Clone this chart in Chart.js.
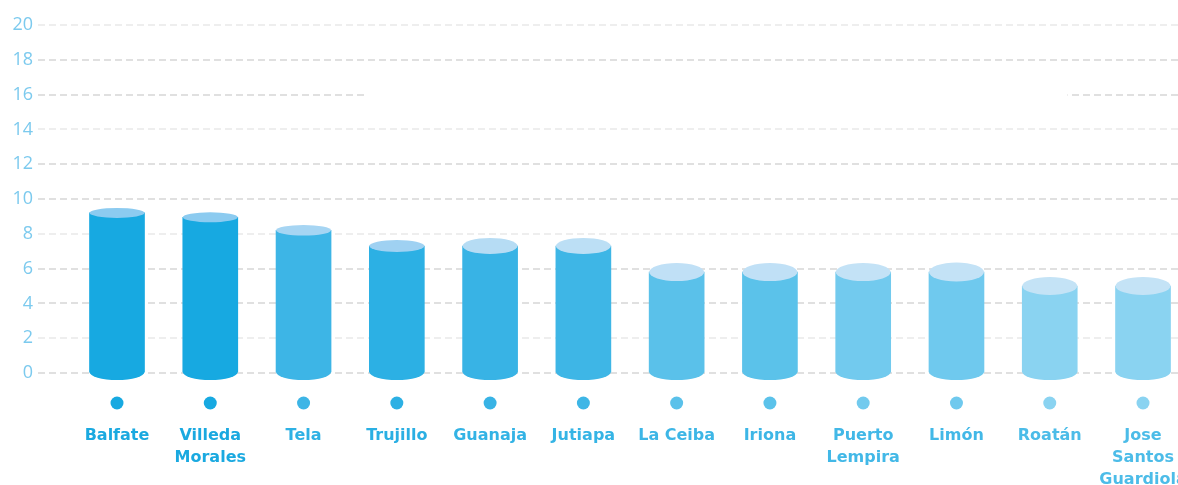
<!DOCTYPE html>
<html>
<head>
<meta charset="utf-8">
<script src="https://cdn.jsdelivr.net/npm/chart.js@4"></script>
<style>
  html, body { margin: 0; padding: 0; background: #ffffff; }
  #wrap { width: 1178px; height: 485px; position: relative; overflow: hidden; }
</style>
</head>
<body>
<div id="wrap"><canvas id="c"></canvas></div>
<script>
// ---- data ----
const categories = ['Balfate', 'Villeda Morales', 'Tela', 'Trujillo', 'Guanaja', 'Jutiapa',
  'La Ceiba', 'Iriona', 'Puerto Lempira', 'Limón', 'Roatán', 'Jose Santos Guardiola'];
const tickLabels = [['Balfate'], ['Villeda', 'Morales'], ['Tela'], ['Trujillo'], ['Guanaja'], ['Jutiapa'],
  ['La Ceiba'], ['Iriona'], ['Puerto', 'Lempira'], ['Limón'], ['Roatán'], ['Jose', 'Santos', 'Guardiola']];
const values = [9.2, 8.95, 8.2, 7.3, 7.3, 7.3, 5.8, 5.8, 5.8, 5.8, 5.0, 5.0];
const yTicks = [0, 2, 4, 6, 8, 10, 12, 14, 16, 18, 20];

// ---- styles ----
const bodyColors = ['#17a9e1', '#17a9e1', '#3db5e6', '#2cb0e4', '#38b3e5', '#3eb6e6',
  '#5ac1ea', '#5bc2ea', '#72caee', '#6fc9ee', '#8ad3f1', '#8ad3f1'];
const capColors = ['#8ccbf0', '#8ccbf0', '#a6d5f3', '#9fd1f2', '#b6dcf4', '#bcdff5',
  '#c0e0f6', '#c0e0f6', '#c3e2f6', '#c3e2f6', '#c4e3f6', '#c4e3f6'];
const labelColors = ['#1aa9e0', '#1aa9e0', '#2eb1e4', '#2aafe3', '#33b3e5', '#35b4e5',
  '#3db6e6', '#3db6e6', '#42b8e7', '#42b8e7', '#4cbce8', '#4cbce8'];
const capRy = [5, 5, 5.3, 6, 8, 8, 9, 9, 9, 9.5, 9, 9];

const cylinderPlugin = {
  id: 'cylinders',
  beforeDatasetsDraw(chart) {
    // white gap across the 16 grid line (as in the reference)
    const { ctx } = chart;
    const xs = chart.scales.x, ys = chart.scales.y;
    ctx.save();
    ctx.fillStyle = '#ffffff';
    const x1 = xs.getPixelForValue(2.66), x2 = xs.getPixelForValue(10.19);
    const y1 = ys.getPixelForValue(16.3), y2 = ys.getPixelForValue(15.7);
    ctx.fillRect(x1, y1, x2 - x1, y2 - y1);
    ctx.restore();
  },
  afterDatasetsDraw(chart) {
    const { ctx } = chart;
    const meta = chart.getDatasetMeta(0);
    ctx.save();
    meta.data.forEach((bar, i) => {
      const p = bar.getProps(['x', 'y', 'base', 'width'], true);
      const rx = p.width / 2;
      // bottom rounded base
      ctx.beginPath();
      ctx.fillStyle = bodyColors[i];
      ctx.ellipse(p.x, p.base, rx, 8, 0, 0, Math.PI);
      ctx.fill();
      // top cap
      ctx.beginPath();
      ctx.fillStyle = capColors[i];
      ctx.ellipse(p.x, p.y, rx, capRy[i], 0, 0, Math.PI * 2);
      ctx.fill();
      // dot under bar
      ctx.beginPath();
      ctx.fillStyle = bodyColors[i];
      ctx.arc(p.x, p.base + 31, 6.5, 0, Math.PI * 2);
      ctx.fill();
    });
    ctx.restore();
  }
};

const lightLines = [20, 14, 8, 2];

new Chart(document.getElementById('c'), {
  type: 'bar',
  data: {
    datasets: [{
      data: values.map((v, i) => ({ x: i, y: v })),
      backgroundColor: bodyColors,
      borderWidth: 0,
      barThickness: 55,
      clip: false
    }]
  },
  options: {
    responsive: true,
    maintainAspectRatio: false,
    animation: false,
    layout: { padding: { top: 25, right: 0, bottom: 0, left: 0 } },
    plugins: { legend: { display: false }, tooltip: { enabled: false } },
    scales: {
      x: {
        type: 'linear',
        offset: false,
        min: -0.847,
        max: 11.375,
        grid: { display: false, offset: false },
        border: { display: false },
        afterBuildTicks: (scale) => { scale.ticks = categories.map((_, i) => ({ value: i })); },
        afterFit: (scale) => { scale.height = 112; scale.paddingLeft = 0; scale.paddingRight = 0; },
        ticks: {
          autoSkip: false,
          maxRotation: 0,
          padding: 44,
          font: { family: 'DejaVu Sans', size: 16, weight: '700', lineHeight: 1.36 },
          color: (ctx) => labelColors[ctx.index] || labelColors[0],
          callback: (v) => tickLabels[v] || ''
        }
      },
      y: {
        min: 0,
        max: 20,
        afterBuildTicks: (scale) => { scale.ticks = yTicks.map(v => ({ value: v })); },
        afterFit: (scale) => { scale.width = 38; },
        grid: {
          drawTicks: false,
          lineWidth: 2,
          color: (ctx) => lightLines.includes(ctx.tick && ctx.tick.value) ? '#eeeeee' : '#e0e0e0'
        },
        border: { display: false, dash: [7, 4] },
        ticks: {
          padding: 5,
          color: '#7ccaee',
          font: { family: 'Open Sans', size: 18, weight: '400' }
        }
      }
    }
  },
  plugins: [cylinderPlugin]
});
</script>
</body>
</html>
